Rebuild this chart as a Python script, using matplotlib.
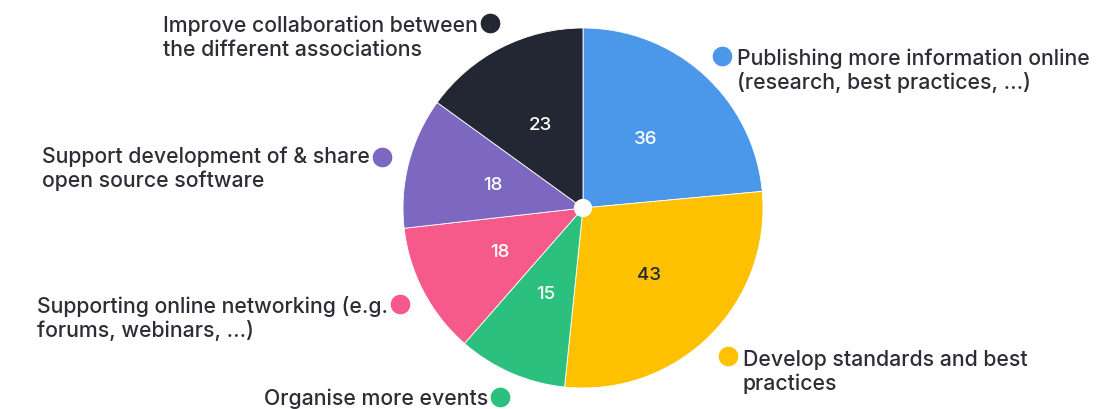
import matplotlib
matplotlib.use("Agg")
import matplotlib.pyplot as plt

# survey answers, clockwise from 12 o'clock
categories = [
    "Publishing more information online\n(research, best practices, ...)",
    "Develop standards and best\npractices",
    "Organise more events",
    "Supporting online networking (e.g.\nforums, webinars, ...)",
    "Support development of & share\nopen source software",
    "Improve collaboration between\nthe different associations",
]
counts = [36, 43, 15, 18, 18, 23]
colors = ["#4b98ea", "#fdc102", "#2cc07f", "#f65a8b", "#7d68c1", "#222733"]
value_colors = ["white", "#222733", "white", "white", "white", "white"]

W, H = 1115, 410
plt.rcParams["font.family"] = ["Inter", "DejaVu Sans"]
fig = plt.figure(figsize=(W / 100, H / 100), dpi=100)
fig.patch.set_facecolor("white")

# pie axes: 360 px square centred at (583, 209) in pixel coords
cx, cy, r = 583, 209, 180
ax = fig.add_axes([(cx - r) / W, (H - cy - r) / H, 2 * r / W, 2 * r / H])
total = sum(counts)
wedges, _, autotexts = ax.pie(
    counts, colors=colors, startangle=90, counterclock=False,
    autopct=lambda p: f"{round(p * total / 100)}", pctdistance=0.52,
    wedgeprops=dict(linewidth=0.6, edgecolor="white"),
    textprops=dict(fontsize=13.5, fontweight="medium"),
)
for t, c in zip(autotexts, value_colors):
    t.set_color(c)
ax.add_patch(plt.Circle((0, 0), 0.047, color="white", zorder=5))
ax.set_xlim(-1, 1)
ax.set_ylim(-1, 1)
ax.set_aspect("equal")
ax.axis("off")

# overlay in pixel coordinates for the callout labels
ov = fig.add_axes([0, 0, 1, 1])
ov.set_xlim(0, W)
ov.set_ylim(H, 0)
ov.axis("off")

# (dot x, dot y, side, first baseline)
label_pos = [
    (722, 57, "right", 65),
    (728, 357, "right", 366),
    (500, 398, "left", 405),
    (400, 305, "left", 313),
    (382, 158, "left", 163),
    (490, 24, "left", 32),
]
line_gap = 24
fsize = 15.3
txt_color = "#2c2d35"
fig.canvas.draw()
renderer = fig.canvas.get_renderer()
inv = ov.transData.inverted()

for label, col, (dx, dy, side, base) in zip(categories, colors, label_pos):
    ov.scatter([dx], [dy], s=200, color=col, zorder=5, linewidths=0)
    lines = label.split("\n")
    if side == "right":
        x0 = dx + 15
        for i, ln in enumerate(lines):
            ov.text(x0, base + i * line_gap, ln, ha="left", va="baseline",
                    fontsize=fsize, fontweight="medium", color=txt_color)
    else:
        first = ov.text(dx - 12, base, lines[0], ha="right", va="baseline",
                        fontsize=fsize, fontweight="medium", color=txt_color)
        bb = first.get_window_extent(renderer)
        x0 = inv.transform((bb.x0, bb.y0))[0]
        for i, ln in enumerate(lines[1:], start=1):
            ov.text(x0, base + i * line_gap, ln, ha="left", va="baseline",
                    fontsize=fsize, fontweight="medium", color=txt_color)

fig.savefig("out.png", dpi=100, facecolor="white")
